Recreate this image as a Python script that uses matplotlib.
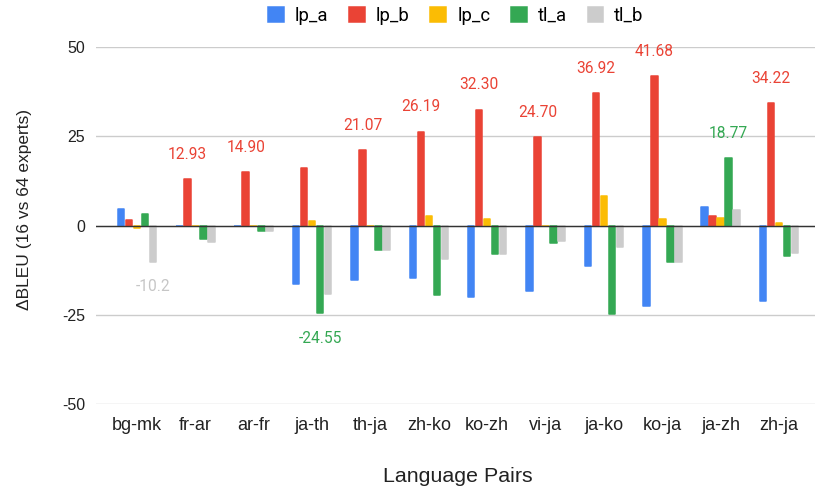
import matplotlib
matplotlib.use("Agg")
import matplotlib.pyplot as plt
import numpy as np

categories = ["bg-mk", "fr-ar", "ar-fr", "ja-th", "th-ja", "zh-ko", "ko-zh", "vi-ja", "ja-ko", "ko-ja", "ja-zh", "zh-ja"]
series_names = ["lp_a", "lp_b", "lp_c", "tl_a", "tl_b"]
lp_a = [4.5, 0.0, 0.0, -16.4, -15.3, -14.7, -20.1, -18.4, -11.3, -22.5, 5.3, -21.0]
lp_b = [1.5, 12.93, 14.90, 16.1, 21.07, 26.19, 32.30, 24.70, 36.92, 41.68, 2.7, 34.22]
lp_c = [-0.6, -0.15, -0.15, 1.2, 0.0, 2.7, 1.95, 0.0, 8.3, 1.95, 2.2, 0.8]
tl_a = [3.1, -3.9, -1.6, -24.55, -6.9, -19.5, -7.9, -5.0, -24.7, -10.1, 18.77, -8.4]
tl_b = [-10.2, -4.6, -1.6, -19.1, -6.9, -9.4, -7.9, -4.3, -6.1, -10.1, 4.2, -7.6]
# labelled points: (series index, category index)
labelled = [(1, 1), (1, 2), (1, 4), (1, 5), (1, 6), (1, 7), (1, 8), (1, 9), (1, 11),
            (3, 3), (3, 10), (4, 0)]
label_text = {(4, 0): "-10.2"}

colors = ["#4285F4", "#EA4335", "#FBBC04", "#34A853", "#CCCCCC"]
label_colors = ["#4285F4", "#EA4335", "#FBBC04", "#34A853", "#C6C6C6"]

series = [lp_a, lp_b, lp_c, tl_a, tl_b]

fig = plt.figure(figsize=(8.15, 4.86), dpi=100)
W, H = 815, 486
left, right = 96, 820
top, bottom = 46.7, 404.3
ax = fig.add_axes([left / W, 1 - bottom / H, (right - left) / W, (bottom - top) / H])

x = np.arange(len(categories))
pitch = 0.137
bw = 0.112
for i, (name, vals) in enumerate(zip(series_names, series)):
    ax.bar(x + (i - 2) * pitch, vals, width=bw, color=colors[i], edgecolor=colors[i],
           linewidth=1.1, joinstyle="round", label=name, zorder=3)

for (si, ci) in labelled:
    v = series[si][ci]
    txt = label_text.get((si, ci), f"{v:.2f}")
    off = 18 if v >= 0 else -18
    ax.annotate(txt, (x[ci] + (si - 2) * pitch, v), xytext=(0, off), textcoords="offset points",
                ha="center", va="center", color=label_colors[si], fontsize=11.2,
                family=["Roboto", "DejaVu Sans"], zorder=4)

ax.set_xlim(-0.70, 11.70)
ax.set_ylim(-50, 50)
ax.set_yticks([-50, -25, 0, 25, 50])
ax.set_yticklabels(["-50", "-25", "0", "25", "50"])
ax.set_xticks(x)
ax.set_xticklabels(categories)
for s in ax.spines.values():
    s.set_visible(False)
ax.tick_params(length=0, labelcolor="#222222", labelfontfamily="Liberation Sans")
ax.tick_params(axis="y", labelsize=11.5, pad=8)
ax.tick_params(axis="x", labelsize=13, pad=9)
ax.yaxis.grid(True, color="#CCCCCC", linewidth=1.0, zorder=0)
ax.set_axisbelow(True)
ax.axhline(0, color="#333333", linewidth=1.0, zorder=3.5)

fig.text(25 / W, 1 - 209 / H, "ΔBLEU (16 vs 64 experts)", rotation=90, ha="center", va="center",
         fontsize=12.5, family=["Liberation Sans", "DejaVu Sans"], color="#222222")
fig.text(458 / W, 1 - 476 / H, "Language Pairs", ha="center", va="center",
         fontsize=15.4, family=["Liberation Sans", "DejaVu Sans"], color="#222222")

leg = fig.legend(loc="center", bbox_to_anchor=(456 / W, 1 - 16 / H), ncol=5, frameon=False,
                 prop={"family": "Roboto", "size": 13.3}, handlelength=0.85, handleheight=0.85,
                 columnspacing=1.12, handletextpad=0.6)

fig.savefig("out.png", dpi=100)
